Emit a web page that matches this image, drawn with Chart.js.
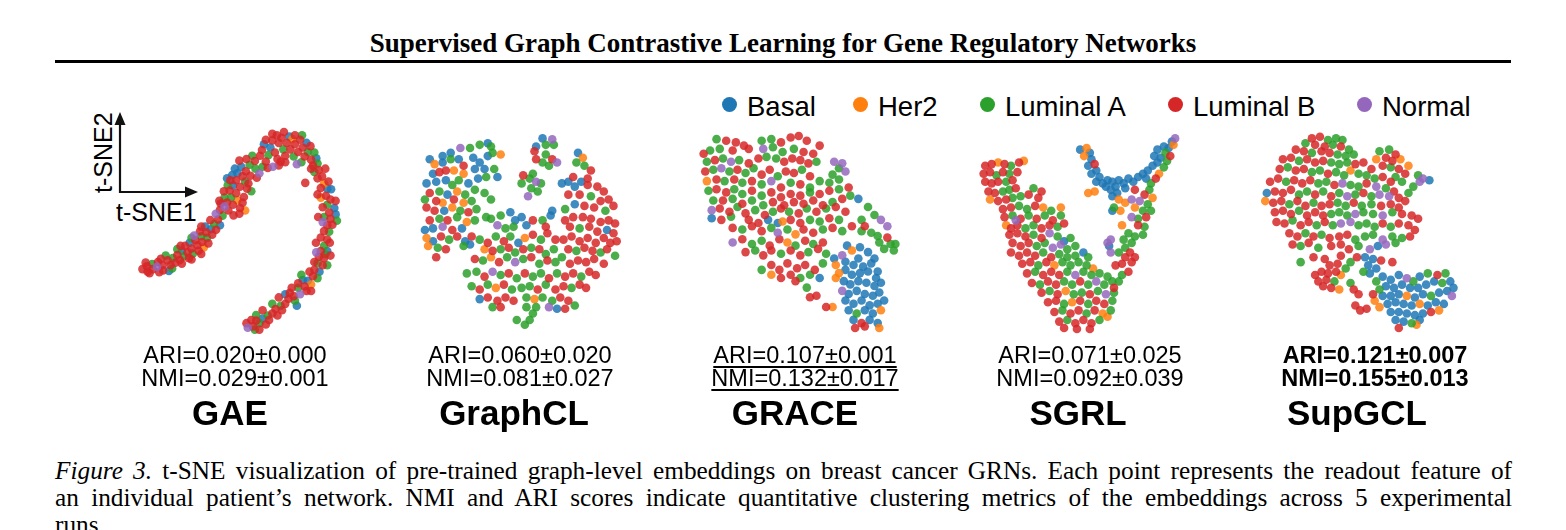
<!DOCTYPE html>
<html>
<head>
<meta charset="utf-8">
<script src="https://cdn.jsdelivr.net/npm/chart.js@4.4.0/dist/chart.umd.min.js"></script>
<style>
  body { margin: 0; width: 1566px; height: 530px; background: #fff; position: relative; overflow: hidden;
         font-family: "Liberation Sans", Arial, sans-serif; color: #000; }
  #title { position: absolute; left: 0; width: 1566px; top: 28px; text-align: center; line-height: 30px;
           font: bold 27px/30px "Liberation Serif", serif; }
  #rule { position: absolute; left: 55px; width: 1456px; top: 60px; height: 2.5px; background: #000; }
  .leg { position: absolute; top: 92px; font-size: 27.5px; line-height: 30px; white-space: nowrap; }
  .dot { position: absolute; top: 97px; width: 15px; height: 15px; border-radius: 50%; }
  .panel { position: absolute; }
  .score { position: absolute; width: 260px; text-align: center; font-size: 23.5px; line-height: 24px; white-space: nowrap; }
  .name { position: absolute; width: 260px; text-align: center; font-size: 35px; font-weight: bold; line-height: 38px; }
  .best { font-weight: bold; }
  .second { text-decoration: underline; text-decoration-thickness: 1.5px; text-underline-offset: 3px; }
  .cap { position: absolute; left: 55px; width: 1457px; font: 25.3px/27px "Liberation Serif", serif;
         text-align: justify; text-align-last: justify; }
  .axlbl { position: absolute; font-size: 25px; line-height: 28px; white-space: nowrap; }
</style>
</head>
<body>
<div id="title">Supervised Graph Contrastive Learning for Gene Regulatory Networks</div>
<div id="rule"></div>

<svg style="position:absolute;left:0;top:0" width="220" height="230">
  <line x1="120" y1="193" x2="120" y2="122" stroke="#111" stroke-width="2.2"/>
  <polygon points="120,112 114.5,125 125.5,125" fill="#111"/>
  <line x1="119" y1="192" x2="188" y2="192" stroke="#111" stroke-width="2.2"/>
  <polygon points="198,192 185,186.5 185,197.5" fill="#111"/>
</svg>
<div class="axlbl" style="left:116px;top:198px;">t-SNE1</div>
<div class="axlbl" style="left:64px;top:140px;transform:rotate(-90deg);transform-origin:39px 14px;">t-SNE2</div>

<div id="legend"></div>
<div id="panels"></div>

<div class="cap" style="top:457px;"><i>Figure 3.</i> t-SNE visualization of pre-trained graph-level embeddings on breast cancer GRNs. Each point represents the readout feature of</div>
<div class="cap" style="top:484px;">an individual patient’s network. NMI and ARI scores indicate quantitative clustering metrics of the embeddings across 5 experimental</div>
<div class="cap" style="top:511px;text-align-last:left;">runs.</div>

<script>
// PAM50 subtypes
const classNames = ['Basal', 'Her2', 'Luminal A', 'Luminal B', 'Normal'];
const classColors = ['rgba(31,119,180,0.85)', 'rgba(255,127,14,0.85)', 'rgba(44,160,44,0.85)',
                     'rgba(214,39,40,0.85)', 'rgba(148,103,189,0.85)'];
const B = 0, H = 1, A = 2, L = 3, N = 4;

const methods = ['GAE', 'GraphCL', 'GRACE', 'SGRL', 'SupGCL'];
const ariMean = [0.020, 0.060, 0.107, 0.071, 0.121];
const ariStd  = [0.000, 0.020, 0.001, 0.025, 0.007];
const nmiMean = [0.029, 0.081, 0.132, 0.092, 0.155];
const nmiStd  = [0.001, 0.027, 0.017, 0.039, 0.013];

// embedding coordinates per method: [t-SNE1, t-SNE2 (downward), subtype]
const gaePoints = [
  [118,512,L],[132,503,L],[134,520,L],[148,496,A],[150,512,L],[163,505,N],[166,490,L],[180,500,L],[182,516,L],
  [196,485,L],[200,518,B],[205,500,L],[212,478,A],[220,492,L],[226,468,L],[234,484,L],[240,455,B],[246,472,A],
  [250,440,L],[258,460,L],[264,430,B],[270,448,L],[274,464,A],[282,422,L],[288,438,L],[292,455,L],[300,410,A],
  [303,428,L],[308,445,H],[315,398,L],[318,415,A],[322,432,L],[330,388,B],[334,405,L],[340,372,A],[346,390,L],
  [352,358,L],[358,376,B],[296,395,L],[312,380,B],[278,408,N],[262,478,L],[190,470,A],[226,450,A],
  [140,525,L],[170,522,L],[210,510,A],[240,495,L],[270,482,L],[300,465,L],[128,492,L],[175,480,L],[236,440,L],
  [270,415,A],[300,380,L],[328,360,L],
  [345,340,N],[358,328,L],[372,318,N],[366,346,A],[380,305,L],[384,330,L],[392,290,A],[398,312,L],[408,276,L],
  [412,298,H],[420,322,L],[428,306,L],[388,268,L],[398,252,B],[390,236,L],[408,236,L],[420,256,L],[428,224,L],
  [412,214,B],[404,200,B],[424,194,B],[438,208,L],[436,240,A],[450,188,A],[452,222,L],[466,176,L],[468,200,A],
  [480,214,N],[372,290,A],[360,308,L],[432,288,L],[442,262,L],[382,252,A],[418,340,L],[436,330,H],[400,345,L],[446,246,L],
  [356,300,L],[370,270,L],[380,230,B],[396,220,B],[418,175,L],[440,170,L],[458,160,A],[455,270,A],
  [482,160,L],[488,142,L],[494,124,B],[500,178,L],[508,158,A],[514,134,B],[522,194,N],[528,150,L],[536,170,L],
  [540,120,L],[548,104,L],[554,140,A],[560,160,L],[565,120,L],[572,100,B],[576,140,L],[586,162,A],[590,124,L],
  [600,148,L],[606,110,L],[614,134,L],[620,162,L],[630,148,A],[626,120,B],[546,178,L],[506,198,L],[490,194,A],
  [472,228,L],[582,108,H],[640,172,L],[610,180,A],[596,186,N],[520,112,L],[534,96,L],[560,180,L],
  [500,110,L],[520,92,L],[556,86,L],[590,96,L],[612,96,A],[638,130,L],[650,150,A],[540,190,L],
  [646,190,L],[656,168,B],[650,210,A],[664,204,L],[660,230,L],[674,224,L],[680,246,H],[690,262,B],[670,260,L],
  [694,240,L],[702,264,B],[686,284,L],[670,290,H],[700,296,L],[690,312,A],[712,322,B],[676,320,L],[696,336,L],
  [716,342,B],[680,350,A],[700,356,L],[690,376,L],[706,374,L],[622,244,L],[660,184,A],[684,200,L],[640,200,L],[676,366,N],
  [716,300,L],[720,362,A],[662,350,L],[660,280,L],
  [680,394,L],[696,396,A],[670,414,L],[690,420,L],[680,440,A],[670,456,L],[690,456,B],[664,474,L],[680,478,L],
  [660,494,A],[676,500,L],[650,514,L],[666,520,B],[646,534,L],[660,540,A],[630,548,B],[614,546,B],[640,560,H],
  [620,566,L],[600,570,A],[626,580,L],[606,590,N],[586,596,L],[590,610,A],[570,604,L],[560,620,L],[546,626,A],
  [550,640,L],[530,636,L],[520,650,L],[506,656,A],[510,670,L],[490,666,B],[480,680,A],[470,672,L],[460,690,L],
  [444,694,N],[466,700,A],[500,684,L],[600,556,L],[684,466,A],[656,460,N],[596,626,B],[574,586,L],[536,656,L],
  [655,430,L],[640,580,L],
  [698,430,L],[700,470,L],[690,500,A],[650,490,L],[635,520,L],[610,530,A],[580,570,L],[560,590,B],[540,600,L],
  [520,620,A],[490,640,L],[470,655,A],[455,670,L],[440,680,L],[480,700,L]
];

const graphclPoints = [
  [150,130,B],[175,120,B],[205,105,N],[235,105,A],[265,95,A],[290,90,B],[300,100,A],[330,125,H],
  [460,75,B],[490,78,N],[440,100,B],[470,95,A],[495,95,A],[435,115,L],
  [440,140,L],[470,125,A],[490,140,L],[505,150,N],[480,160,A],[460,150,A],
  [570,120,B],[585,135,H],[565,150,A],[590,160,A],[610,175,L],[555,195,L],[580,210,B],[540,210,B],[600,200,L],
  [110,140,B],[125,155,H],[150,150,B],[175,140,A],[200,140,B],[215,160,L],[245,135,B],[265,150,B],[250,170,B],
  [290,130,B],[305,120,A],[280,170,B],[310,170,A],[160,175,L],[120,185,B],[140,180,L],[185,175,H],[215,185,H],
  [400,190,L],[420,200,A],[395,215,A],[440,210,N],[455,215,A],[425,230,A],[445,240,A],[415,255,N],[430,185,A],
  [100,215,B],[130,210,B],[160,205,B],[180,220,A],[200,205,A],[230,215,B],[260,200,B],[285,195,A],[320,195,B],
  [110,245,L],[140,240,A],[165,250,B],[195,240,H],[220,250,A],[250,235,A],[280,245,A],[300,265,A],[95,265,A],
  [130,270,L],[150,275,H],[185,265,L],[215,275,H],[240,270,A],
  [520,215,B],[560,225,B],[600,220,L],[630,225,L],[650,240,L],[540,250,L],[575,250,L],[610,255,A],[640,270,L],
  [665,265,L],[530,295,A],[560,280,B],[590,285,L],[620,290,L],[655,300,A],[680,285,L],
  [100,290,L],[125,300,L],[155,300,B],[180,290,H],[205,300,A],[230,305,L],[255,295,A],[110,330,L],[140,325,A],
  [165,330,L],[195,320,A],[225,335,H],[250,330,A],[285,320,A],[95,360,B],[120,355,B],[150,350,N],[180,360,L],[210,355,B],
  [300,325,A],[330,315,A],[360,305,B],[375,330,B],[395,320,B],[320,345,N],[345,355,A],[370,350,A],[410,345,B],
  [430,330,L],[460,330,A],[485,315,B],[490,300,B],[470,350,L],
  [530,330,L],[555,320,L],[585,320,L],[610,325,L],[640,335,L],[665,330,L],[685,340,L],[545,350,L],[575,355,A],
  [605,350,L],[630,365,L],[660,360,B],[680,370,L],[690,395,L],
  [100,385,H],[120,395,B],[145,380,L],[170,390,A],[195,380,L],[220,395,B],[240,380,L],[105,410,H],[135,415,A],
  [160,420,L],[130,445,L],[215,410,A],[235,405,B],
  [265,390,A],[290,400,L],[315,380,A],[340,395,L],[360,380,A],[385,400,B],[405,385,H],[430,375,L],[455,390,A],
  [475,370,L],[500,390,L],[280,420,H],[305,425,L],[330,420,A],[355,415,L],[375,430,A],[400,420,L],[425,415,A],
  [450,420,L],[470,435,A],[495,420,A],
  [525,390,L],[550,380,L],[575,395,L],[600,385,L],[625,400,L],[650,385,L],[670,400,L],[540,420,L],[565,425,A],
  [590,415,L],[615,425,L],[640,430,A],[660,420,L],[685,440,A],
  [250,450,L],[275,455,A],[300,445,H],[325,460,L],[350,445,A],[375,460,N],[400,450,A],[425,445,L],[450,465,A],
  [475,455,L],[500,460,A],[520,445,A],[545,465,L],[570,455,L],[595,460,L],[620,450,L],[650,465,L],
  [225,495,A],[255,490,A],[280,505,L],[305,490,N],[330,500,A],[355,495,L],[380,510,A],[405,495,L],[430,505,A],
  [455,495,A],[480,510,L],[505,495,A],[530,505,L],[555,495,L],[580,505,A],[605,490,L],[625,500,L],
  [240,535,A],[265,545,L],[290,530,A],[315,540,H],[340,530,L],[365,545,A],[395,540,A],[420,535,A],[445,545,L],
  [470,530,A],[500,545,L],[525,535,L],[550,540,A],[575,530,L],[595,540,L],
  [265,575,B],[290,570,L],[320,580,L],[345,570,L],[370,580,L],[410,570,A],[435,575,H],[460,570,A],[490,580,A],
  [515,570,L],[540,580,L],[560,595,A],[305,600,A],[330,600,L],[480,600,N],[505,605,B],[530,605,L],
  [410,600,A],[430,620,A],[380,640,A],[405,655,A],[420,640,A],[440,600,A]
];

const gracePoints = [
  [100,170,A],[130,175,L],[160,180,L],[185,190,L],[240,175,A],[270,170,A],[300,180,L],[330,165,L],[355,160,L],
  [380,175,L],[420,190,L],[60,215,L],[80,205,A],[110,200,A],[150,205,L],[200,200,L],[245,200,N],[275,195,A],
  [305,210,A],[340,200,A],[370,210,L],[400,215,L],
  [70,240,A],[95,235,L],[120,230,A],[145,240,N],[170,235,A],[200,245,L],[230,230,L],[255,225,A],[285,230,A],
  [310,240,L],[335,230,L],[360,235,L],[385,245,L],[410,240,A],[465,240,N],[490,245,N],[480,260,A],
  [65,270,L],[90,265,A],[115,260,N],[140,270,A],[165,265,L],[190,275,A],[215,260,A],[240,280,L],[265,265,L],
  [290,285,A],[315,270,L],[340,275,L],[365,265,A],[390,285,L],[460,280,A],[500,270,N],[70,300,H],[100,295,L],
  [125,300,A],[155,295,L],[180,305,A],[210,300,L],[240,310,A],[270,300,N],[300,320,L],[330,305,A],[360,310,L],
  [390,320,A],[420,300,A],[450,305,A],[480,295,A],
  [75,330,A],[100,325,L],[130,335,L],[155,325,A],[180,340,A],[210,330,L],[240,345,A],[270,335,L],[300,350,L],
  [330,340,L],[360,345,L],[390,335,A],[420,340,L],[450,330,L],[480,325,A],[510,320,L],[90,360,A],[120,360,L],
  [150,355,A],[180,370,L],[210,360,A],[245,375,A],[275,365,L],[310,375,L],[340,365,L],[370,370,L],[400,360,L],
  [430,375,L],[460,365,A],[490,355,L],[515,345,A],
  [85,390,N],[110,385,L],[140,395,L],[165,380,A],[190,400,L],[220,390,A],[250,405,L],[275,395,A],[300,385,L],
  [325,395,A],[355,400,L],[380,385,A],[410,395,L],[440,385,A],[470,380,L],[500,395,L],[540,355,B],[570,380,A],
  [85,415,B],[115,420,L],[145,410,A],[200,420,L],[230,430,L],[260,420,B],[290,430,B],[305,425,H],[330,420,L],
  [360,430,L],[390,420,A],[420,425,A],[450,415,L],[480,420,A],[550,420,A],[590,405,A],[610,420,N],[630,440,N],[560,440,L],
  [150,445,L],[180,450,A],[210,440,L],[240,455,L],[270,445,A],[290,460,N],[320,450,A],[345,465,H],[370,450,L],
  [400,460,L],[430,450,A],[460,445,L],[490,455,A],[520,440,L],[550,455,A],[580,460,A],[600,470,A],[630,475,L],
  [150,490,N],[180,480,L],[210,495,A],[240,485,A],[265,500,L],[295,480,L],[320,490,H],[345,500,A],[375,485,L],
  [400,495,A],[430,490,L],[605,490,A],[640,495,A],[655,495,A],[620,510,A],[650,515,A],
  [190,520,L],[220,515,A],[245,530,L],[270,515,L],[300,525,A],[330,515,L],[360,530,L],[385,520,A],[415,510,L],
  [440,525,A],[465,540,B],[490,530,N],[505,500,B],[520,515,H],[545,505,B],[570,520,B],[590,540,B],[540,540,B],
  [600,580,B],[240,575,A],[270,560,L],[295,575,L],[320,555,L],[350,570,L],[375,560,L],[405,575,L],[430,555,A],
  [470,560,H],[500,550,B],[525,560,B],[555,565,B],[580,555,B],
  [480,585,H],[500,575,B],[520,590,B],[545,585,B],[570,580,B],[595,600,B],[470,600,H],[495,610,B],[515,620,B],
  [540,610,B],[565,615,B],[590,625,B],[610,615,B],[490,640,N],[510,650,B],[535,640,B],[560,650,B],[585,655,B],
  [605,645,B],[500,670,B],[525,680,B],[550,670,B],[575,685,B],[600,680,B],[620,670,B],[510,700,B],[535,710,A],
  [560,700,B],[585,710,B],[610,700,H],[525,730,B],[550,740,L],[575,730,B],[600,740,B],[560,750,L],[530,755,L],[605,755,H],
  [270,590,H],[300,600,L],[330,590,L],[345,610,L],[360,600,A],[390,590,A],[420,600,B],[410,655,L],[380,630,A],
  [440,690,L],[460,690,H],[390,660,L]
];

const sgrlPoints = [
  [65,160,L],[85,155,L],[105,150,H],[125,155,L],[145,160,A],[170,150,L],[185,145,H],[60,185,L],[80,180,L],
  [100,190,A],[120,180,L],[140,185,A],[165,180,L],[65,210,L],[85,215,L],[105,210,L],[130,210,A],[150,205,L],
  [75,240,L],[95,245,L],[120,240,A],[140,235,A],[160,230,L],[215,230,A],[240,240,L],[80,265,H],[105,270,L],
  [130,265,L],[150,260,A],[175,255,A],[200,250,L],[230,260,L],
  [120,295,L],[145,290,L],[170,285,A],[195,295,A],[220,285,L],[245,290,H],[270,300,A],[300,290,H],[125,320,L],
  [150,315,A],[175,325,L],[200,315,A],[225,325,L],[250,315,A],[275,330,L],[300,315,A],[160,330,N],[130,345,H],
  [145,355,L],[165,345,L],[190,355,A],[215,345,A],[240,355,L],[265,345,L],[290,350,A],[310,340,L],
  [140,375,L],[165,370,L],[190,380,L],[215,375,A],[240,385,L],[265,370,N],[290,380,A],[310,395,B],[330,385,A],
  [150,400,L],[175,410,L],[200,400,L],[225,410,A],[250,400,A],[275,415,N],[300,405,N],[320,420,A],[345,410,A],
  [145,430,L],[170,440,L],[195,430,L],[220,440,L],[245,430,A],[270,445,L],[295,435,A],[320,445,A],[345,440,A],
  [370,430,B],[385,445,A],
  [180,465,L],[205,460,L],[230,470,A],[255,460,L],[280,470,H],[305,460,A],[330,470,A],[355,460,A],[380,470,A],
  [400,480,H],[195,495,L],[220,490,A],[245,500,L],[270,490,L],[295,500,L],[320,490,A],[345,500,N],[370,490,A],
  [395,500,A],[420,495,A],[445,505,A],[210,525,L],[235,530,A],[260,520,L],[285,530,L],[310,520,A],[335,530,A],
  [360,520,L],[385,530,A],[410,520,N],[435,530,A],[460,520,A],
  [240,555,L],[265,550,A],[290,560,L],[315,550,H],[340,560,A],[365,555,A],[390,560,L],[415,550,A],[440,560,N],
  [465,555,A],[260,585,L],[285,580,L],[310,590,A],[335,585,H],[360,580,L],[385,590,A],[410,580,L],[435,590,L],
  [460,580,A],[280,615,L],[305,610,A],[330,620,L],[355,610,L],[380,620,A],[405,610,L],[430,620,H],[455,610,A],
  [295,645,L],[320,640,A],[345,650,L],[370,640,L],[395,650,L],[420,640,A],[445,630,H],[310,665,L],[350,668,L],[390,668,L],
  [560,250,L],[585,260,H],[570,280,A],[545,270,N],[520,265,N],[530,290,H],[555,300,A],[580,300,A],[565,320,L],
  [540,325,A],[520,320,N],[490,345,H],[540,345,L],[560,350,A],[510,370,A],[530,380,A],[555,375,A],[495,390,A],
  [520,400,A],[500,415,A],[480,430,A],[515,430,L],[500,445,L],[490,465,L],[470,470,L],[520,460,L],[510,490,L],
  [490,500,A],[480,520,A],[465,540,L],[455,390,N],[455,430,N],[450,410,B],[445,400,N],[500,275,H],[530,445,L],
  [360,110,B],[380,105,H],[390,120,B],[372,130,H],[395,140,B],[405,155,L],[385,160,B],[410,175,B],[395,185,B],
  [420,195,B],[410,210,B],[430,215,B],[445,205,B],[460,210,B],[480,205,B],[470,225,B],[495,215,B],[510,200,B],
  [525,210,B],[540,195,B],[555,185,B],[570,175,B],[585,160,B],[600,150,B],[610,135,B],[625,120,A],[635,105,B],
  [645,85,B],[655,75,N],[650,95,H],[640,130,L],[630,145,A],[620,165,A],[605,185,H],[595,200,L],[580,215,A],
  [575,235,A],[455,235,B],[475,245,B],[460,255,B],[480,265,H],[465,290,A],[460,300,B],[485,300,H],[385,245,H],
  [405,240,H],[500,230,B],[530,235,L],[600,110,B],[620,100,B],[590,130,B],[565,200,B],[440,225,B]
];

const supgclPoints = [
  [210,75,L],[235,70,L],[260,80,A],[285,75,A],[305,80,A],[190,90,A],[220,95,L],[250,100,L],[275,95,A],
  [300,100,L],[325,110,A],[160,110,L],[185,115,L],[210,120,A],[240,115,L],[265,120,L],[290,125,A],[315,130,A],[340,125,A],
  [420,115,A],[450,110,A],[470,125,L],[440,135,L],[460,145,L],[485,140,H],[410,140,H],[430,160,L],[455,165,A],
  [480,170,L],[510,160,H],[500,185,L],[540,190,A],[555,200,N],[575,205,B],[545,210,N],[525,225,A],[510,245,A],
  [490,210,A],[470,195,A],
  [120,140,L],[145,135,L],[170,145,A],[195,140,L],[220,150,L],[245,145,L],[270,150,A],[295,155,A],[320,150,A],
  [345,155,L],[370,150,L],[395,170,L],[110,170,L],[135,165,A],[160,175,L],[185,170,L],[210,180,A],[235,175,A],
  [260,185,L],[285,180,A],[310,190,A],[330,175,H],[355,185,A],[380,190,A],[405,200,A],[430,195,L],[455,210,L],
  [80,210,L],[105,200,L],[130,210,A],[155,205,L],[180,215,L],[205,205,L],[230,215,A],[255,210,A],[280,220,L],
  [305,215,N],[330,220,A],[355,225,A],[380,215,L],[410,225,N],[440,230,A],[465,240,L],[70,245,B],[95,240,L],
  [120,245,L],[145,235,L],[170,250,A],[195,240,A],[220,250,L],[245,240,A],[270,255,L],[295,245,A],[320,255,N],
  [345,250,A],[370,245,L],[395,255,A],[420,250,N],[450,255,N],[480,260,L],[500,270,L],
  [65,270,H],[90,275,L],[115,270,L],[140,280,A],[165,270,L],[190,285,L],[215,275,A],[240,285,L],[265,280,L],
  [290,275,A],[315,285,A],[340,275,L],[365,285,A],[395,280,A],[425,285,L],[455,280,L],[480,290,L],[95,305,L],
  [120,300,L],[145,310,L],[170,300,A],[195,315,L],[220,305,L],[245,315,L],[270,310,A],[295,305,A],[320,315,A],
  [345,310,N],[370,305,A],[400,310,A],[430,315,N],[460,305,A],[490,310,L],[520,315,L],[540,325,L],
  [100,335,L],[125,340,L],[150,330,A],[175,345,L],[200,335,L],[225,345,A],[250,335,L],[275,345,A],[300,340,N],
  [330,335,N],[355,345,A],[380,340,A],[405,350,A],[430,340,L],[455,350,A],[480,340,L],[510,345,L],[530,360,L],
  [140,370,L],[165,380,L],[190,370,A],[215,380,L],[240,375,A],[265,385,L],[295,380,L],[320,375,L],[345,390,A],
  [375,380,A],[400,375,A],[430,390,N],[460,380,A],[490,385,A],[515,380,L],
  [150,405,L],[175,410,A],[200,400,L],[230,415,A],[270,410,L],[300,405,L],[325,420,L],[355,410,A],[390,420,N],
  [415,410,B],[440,405,N],[470,400,A],[175,460,A],[215,445,L],[250,450,L],[300,440,L],[330,460,A],[350,445,L],
  [375,445,B],[385,470,B],[400,450,B],[410,480,B],[425,455,L],[460,460,L],[370,490,A],[390,495,B],
  [220,500,L],[240,490,L],[260,495,L],[285,490,L],[300,500,H],[230,520,L],[255,515,L],[280,520,A],[245,535,L],
  [270,540,L],[295,545,H],[265,470,L],[290,465,L],[315,480,A],[330,525,A],[340,545,L],[355,560,L],
  [410,520,A],[430,505,B],[455,515,B],[480,500,B],[505,510,N],[525,520,A],[545,505,B],[570,495,A],[600,500,L],
  [625,495,A],[640,520,B],[615,525,A],[590,520,B],[565,530,B],[540,540,B],[515,540,B],[490,530,B],[465,540,B],
  [440,535,B],[420,545,A],[430,565,B],[455,565,B],[480,560,B],[505,565,H],[530,570,B],[555,560,B],[580,565,A],
  [605,555,B],[630,550,B],[650,540,B],[445,590,B],[470,585,B],[495,590,B],[520,595,B],[545,590,H],[570,595,B],
  [595,585,B],[620,590,B],[645,565,N],[455,615,B],[480,615,B],[505,620,B],[530,625,B],[555,620,B],[580,615,L],
  [605,610,H],[470,640,B],[495,645,B],[520,650,A],[545,640,B],[480,665,L],[535,655,H],[405,580,H],[420,600,H],
  [400,560,L],[345,595,L],[360,610,L],[380,605,L]
];

const panelPoints = [gaePoints, graphclPoints, gracePoints, sgrlPoints, supgclPoints];
// t-SNE axis limits per run
const xLimits = [[0, 840], [0, 780], [0, 780], [0, 750], [0, 750]];
const yLimits = [[0, 750], [0, 720], [0, 810], [0, 720], [0, 720]];

// layout
const frames = [
  { left: 100, top: 100, w: 280, h: 250 },
  { left: 390, top: 110, w: 260, h: 240 },
  { left: 680, top: 80, w: 260, h: 270 },
  { left: 960, top: 110, w: 250, h: 240 },
  { left: 1240, top: 110, w: 250, h: 240 }
];
const scoreCenters = [235, 520, 805, 1090, 1375];
const nameCenters = [230, 514, 795, 1078, 1357];
const legendText = [747, 878, 1005, 1193, 1382];

// legend
const legend = document.getElementById('legend');
classNames.forEach((c, i) => {
  const d = document.createElement('div');
  d.className = 'dot';
  d.style.left = (legendText[i] - 25) + 'px';
  d.style.background = classColors[i].replace('0.85', '1');
  legend.appendChild(d);
  const t = document.createElement('div');
  t.className = 'leg';
  t.style.left = legendText[i] + 'px';
  t.textContent = c;
  legend.appendChild(t);
});

const rank = (arr) => arr.map(v => arr.filter(w => w > v).length);
const ariRank = rank(ariMean);
const nmiRank = rank(nmiMean);
const fmt = (v) => v.toFixed(3);

const holder = document.getElementById('panels');
methods.forEach((m, k) => {
  const f = frames[k];
  const box = document.createElement('div');
  box.className = 'panel';
  box.style.left = f.left + 'px';
  box.style.top = f.top + 'px';
  const cv = document.createElement('canvas');
  cv.width = f.w;
  cv.height = f.h;
  cv.style.width = f.w + 'px';
  cv.style.height = f.h + 'px';
  box.appendChild(cv);
  holder.appendChild(box);

  new Chart(cv, {
    type: 'scatter',
    data: {
      datasets: classNames.map((c, i) => ({
        label: c,
        data: panelPoints[k].filter(p => p[2] === i).map(p => ({ x: p[0], y: p[1] })),
        backgroundColor: classColors[i],
        borderWidth: 0,
        pointRadius: 4.3,
        clip: false,
        order: 4 - i
      }))
    },
    options: {
      responsive: false,
      animation: false,
      layout: { padding: 0 },
      plugins: { legend: { display: false }, tooltip: { enabled: false } },
      scales: {
        x: { type: 'linear', display: false, min: xLimits[k][0], max: xLimits[k][1] },
        y: { type: 'linear', display: false, reverse: true, min: yLimits[k][0], max: yLimits[k][1] }
      }
    }
  });

  const ari = document.createElement('div');
  ari.className = 'score';
  ari.style.left = (scoreCenters[k] - 130) + 'px';
  ari.style.top = '343px';
  const ariSpan = document.createElement('span');
  ariSpan.textContent = 'ARI=' + fmt(ariMean[k]) + '±' + fmt(ariStd[k]);
  if (ariRank[k] === 0) ariSpan.className = 'best';
  if (ariRank[k] === 1) ariSpan.className = 'second';
  ari.appendChild(ariSpan);
  holder.appendChild(ari);

  const nmi = document.createElement('div');
  nmi.className = 'score';
  nmi.style.left = (scoreCenters[k] - 130) + 'px';
  nmi.style.top = '366px';
  const nmiSpan = document.createElement('span');
  nmiSpan.textContent = 'NMI=' + fmt(nmiMean[k]) + '±' + fmt(nmiStd[k]);
  if (nmiRank[k] === 0) nmiSpan.className = 'best';
  if (nmiRank[k] === 1) nmiSpan.className = 'second';
  nmi.appendChild(nmiSpan);
  holder.appendChild(nmi);

  const name = document.createElement('div');
  name.className = 'name';
  name.style.left = (nameCenters[k] - 130) + 'px';
  name.style.top = '394px';
  name.textContent = m;
  holder.appendChild(name);
});
</script>
</body>
</html>
